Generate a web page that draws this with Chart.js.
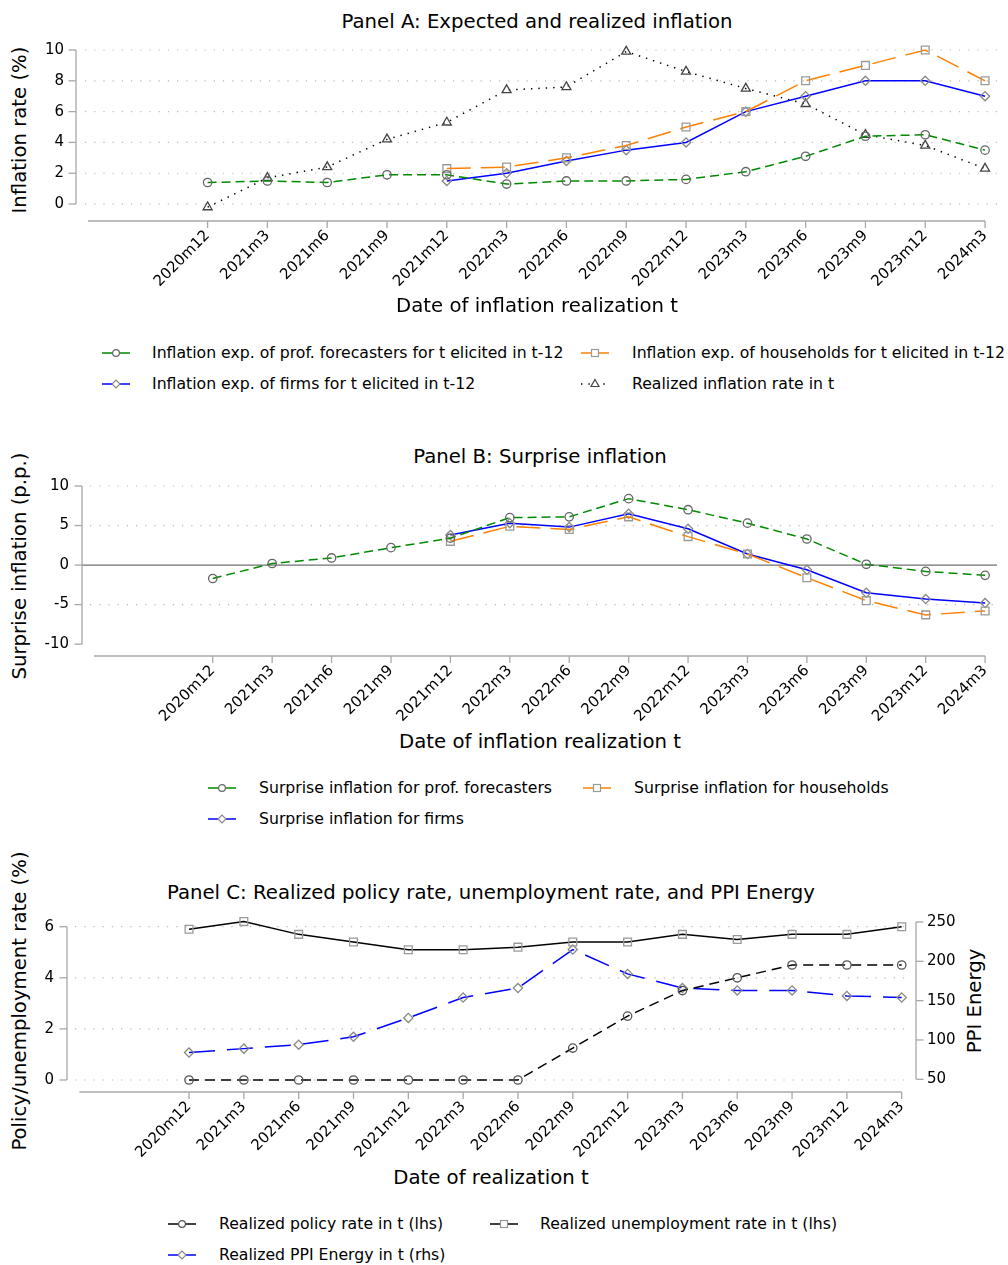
<!DOCTYPE html>
<html><head><meta charset="utf-8">
<script src="https://cdn.jsdelivr.net/npm/chart.js@4.4.1/dist/chart.umd.min.js"></script>
<style>
body{margin:0;background:#fff;width:1008px;height:1265px;position:relative;overflow:hidden;font-family:"DejaVu Sans",sans-serif;color:#000}
.t{position:absolute;white-space:nowrap;font-size:19.7px;line-height:1;transform:translate(-50%,-50%)}
.yt{position:absolute;white-space:nowrap;font-size:19.7px;line-height:1;transform:translate(-50%,-50%) rotate(-90deg)}
canvas{position:absolute;left:0}
.lg{position:absolute;white-space:nowrap;font-size:15.7px;line-height:1;transform:translateY(-50%)}
svg.sw{position:absolute;overflow:visible}
</style></head>
<body>
<div class="t" style="left:537px;top:22px">Panel A: Expected and realized inflation</div>
<div class="yt" style="left:20px;top:130px">Inflation rate (%)</div>
<canvas id="cA" width="1008" height="300" style="top:0px"></canvas>
<div class="t" style="left:537px;top:306px">Date of inflation realization t</div>
<div id="legA"></div>

<div class="t" style="left:540px;top:457px">Panel B: Surprise inflation</div>
<div class="yt" style="left:20px;top:566px">Surprise inflation (p.p.)</div>
<canvas id="cB" width="1008" height="300" style="top:430px"></canvas>
<div class="t" style="left:540px;top:742px">Date of inflation realization t</div>
<div id="legB"></div>

<div class="t" style="left:491px;top:893px">Panel C: Realized policy rate, unemployment rate, and PPI Energy</div>
<div class="yt" style="left:20px;top:1001px">Policy/unemployment rate (%)</div>
<div class="yt" style="left:975px;top:1001px">PPI Energy</div>
<canvas id="cC" width="1008" height="300" style="top:860px"></canvas>
<div class="t" style="left:491px;top:1178px">Date of realization t</div>
<div id="legC"></div>

<script>
// ---------- DATA ----------
const categories = ["2020m12","2021m3","2021m6","2021m9","2021m12","2022m3","2022m6","2022m9","2022m12","2023m3","2023m6","2023m9","2023m12","2024m3"];

// Panel A
const profExpected      = [1.4, 1.5, 1.4, 1.9, 1.9, 1.3, 1.5, 1.5, 1.6, 2.1, 3.1, 4.4, 4.5, 3.5];
const householdExpected = [null, null, null, null, 2.3, 2.4, 3.0, 3.8, 5.0, 6.0, 8.0, 9.0, 10.0, 8.0];
const firmExpected      = [null, null, null, null, 1.5, 2.0, 2.8, 3.5, 4.0, 6.0, 7.0, 8.0, 8.0, 7.0];
const realizedInflation = [-0.2, 1.7, 2.4, 4.2, 5.3, 7.4, 7.6, 9.9, 8.6, 7.5, 6.5, 4.5, 3.8, 2.3];

// Panel B
const profSurprise      = [-1.7, 0.2, 0.9, 2.2, 3.4, 6.0, 6.1, 8.4, 7.0, 5.3, 3.3, 0.1, -0.8, -1.3];
const householdSurprise = [null, null, null, null, 3.0, 4.9, 4.5, 6.1, 3.6, 1.4, -1.6, -4.5, -6.3, -5.8];
const firmSurprise      = [null, null, null, null, 3.8, 5.3, 4.8, 6.5, 4.6, 1.4, -0.6, -3.5, -4.3, -4.8];

// Panel C
const policyRate       = [0, 0, 0, 0, 0, 0, 0, 1.25, 2.5, 3.5, 4.0, 4.5, 4.5, 4.5];
const unemploymentRate = [5.9, 6.2, 5.7, 5.4, 5.1, 5.1, 5.2, 5.4, 5.4, 5.7, 5.5, 5.7, 5.7, 6.0];
const ppiEnergy        = [84, 89, 94, 104, 128, 154, 166, 215, 184, 166, 163, 163, 156, 154];

// Tick values
const ticksA = [0, 2, 4, 6, 8, 10];
const ticksB = [-10, -5, 0, 5, 10];
const gridB  = [-5, 5, 10];
const ticksCLeft  = [0, 2, 4, 6];
const ticksCRight = [50, 100, 150, 200, 250];

// ---------- STYLE ----------
const GREEN = '#008a00', ORANGE = '#ff8000', BLUE = '#0000ff', BLACK = '#000000';
const MK_CIRCLE = '#666666', MK_SQUARE = '#9a9a9a', MK_DIAMOND = '#888888', MK_TRI = '#444444';
const AXIS_COL = '#a8a8a8';

Chart.defaults.font.family = 'DejaVu Sans';
Chart.defaults.font.size = 15;
Chart.defaults.color = '#000';

function toPts(arr){ return arr.map((v,i)=>({x:i,y:v})).filter(p=>p.y!==null); }

function ds(label, data, color, dash, style, radius, mcol, yAxisID){
  return { label, data: toPts(data), borderColor: color, borderWidth: 1.5, borderDash: dash,
    pointStyle: style, pointRadius: radius, pointHoverRadius: radius, pointBorderColor: mcol,
    pointBackgroundColor: 'rgba(0,0,0,0)', pointBorderWidth: 1.3, fill: false, tension: 0,
    clip: false, yAxisID: yAxisID || 'y' };
}

const stataPlugin = {
  id: 'stata',
  beforeDatasetsDraw(chart, args, o){
    const ctx = chart.ctx, a = chart.chartArea;
    function line(x0,y0,x1,y1){ ctx.beginPath(); ctx.moveTo(x0,y0); ctx.lineTo(x1,y1); ctx.stroke(); }
    ctx.save();
    const gs = chart.scales[o.gridScale];
    ctx.strokeStyle = '#b8b8b8'; ctx.lineWidth = 1.2; ctx.setLineDash([1.2, 8]);
    o.grid.forEach(v => { const y = gs.getPixelForValue(v); line(a.left, y, a.right, y); });
    ctx.setLineDash([]);
    if (o.zeroLine) {
      ctx.strokeStyle = '#707070'; ctx.lineWidth = 1.3;
      const y = gs.getPixelForValue(0); line(a.left - 8, y, a.right, y);
    }
    ctx.strokeStyle = AXIS_COL; ctx.lineWidth = 1.3;
    o.yAxes.forEach(ax => {
      const s = chart.scales[ax.id];
      line(ax.x, s.getPixelForValue(ax.from), ax.x, s.getPixelForValue(ax.to));
      ax.ticks.forEach(v => { const y = s.getPixelForValue(v); line(ax.x, y, ax.x + ax.dir * 7.5, y); });
    });
    const xs = chart.scales.x, yb = a.bottom;
    line(xs.getPixelForValue(-2), yb, xs.getPixelForValue(categories.length - 1), yb);
    categories.forEach((c,i) => { const x = xs.getPixelForValue(i); line(x, yb, x, yb + 7); });
    ctx.restore();
  }
};

function xScale(xmin, xmax, height){
  return { type: 'linear', position: 'bottom', min: xmin, max: xmax,
    afterBuildTicks: s => { s.ticks = categories.map((c,i)=>({value:i})); },
    afterFit: s => { s.height = height; },
    grid: { display: false, drawTicks: false }, border: { display: false },
    ticks: { autoSkip: false, minRotation: 45, maxRotation: 45, padding: 6, color: '#000',
      font: { size: 15 }, callback: v => categories[v] !== undefined ? categories[v] : '' } };
}
function yScale(pos, min, max, ticks, width, pad){
  return { type: 'linear', position: pos, min, max,
    afterBuildTicks: s => { s.ticks = ticks.map(v=>({value:v})); },
    afterFit: s => { s.width = width; },
    grid: { display: false, drawTicks: false }, border: { display: false },
    ticks: { padding: pad, color: '#000', font: { size: 15 }, callback: v => String(v) } };
}

function makeChart(id, datasets, scales, padding, stataOpts){
  return new Chart(document.getElementById(id), {
    type: 'line',
    data: { datasets },
    options: { responsive: false, animation: false, events: [],
      layout: { padding },
      scales,
      plugins: { legend: { display: false }, tooltip: { enabled: false }, title: { display: false }, stata: stataOpts } },
    plugins: [stataPlugin]
  });
}

// Panel A
makeChart('cA', [
  ds('Inflation exp. of prof. forecasters for t elicited in t-12', profExpected, GREEN, [9,5], 'circle', 4.2, MK_CIRCLE),
  ds('Inflation exp. of households for t elicited in t-12', householdExpected, ORANGE, [24,10], 'rect', 5.5, MK_SQUARE),
  ds('Inflation exp. of firms for t elicited in t-12', firmExpected, BLUE, [], 'rectRot', 4.6, MK_DIAMOND),
  ds('Realized inflation rate in t', realizedInflation, BLACK, [1.4,6], 'triangle', 5.2, MK_TRI)
], { x: xScale(-2.05, 13.2, 79), y: yScale('left', -1.1, 10, ticksA, 85, 21) },
 { left: 0, right: 11, top: 50, bottom: 0 },
 { gridScale: 'y', grid: ticksA, zeroLine: false, yAxes: [{ id: 'y', x: 76, from: 0, to: 10, ticks: ticksA, dir: -1 }] });

// Panel B
makeChart('cB', [
  ds('Surprise inflation for prof. forecasters', profSurprise, GREEN, [9,5], 'circle', 4.2, MK_CIRCLE),
  ds('Surprise inflation for households', householdSurprise, ORANGE, [24,10], 'rect', 5.5, MK_SQUARE),
  ds('Surprise inflation for firms', firmSurprise, BLUE, [], 'rectRot', 4.6, MK_DIAMOND)
], { x: xScale(-2.066, 13.2, 74), y: yScale('left', -11.5, 10, ticksB, 90, 21) },
 { left: 0, right: 11, top: 56, bottom: 0 },
 { gridScale: 'y', grid: gridB, zeroLine: true, yAxes: [{ id: 'y', x: 82, from: -10, to: 10, ticks: ticksB, dir: -1 }] });

// Panel C
makeChart('cC', [
  ds('Realized policy rate in t (lhs)', policyRate, BLACK, [10,6], 'circle', 4.2, '#555555', 'y'),
  ds('Realized unemployment rate in t (lhs)', unemploymentRate, BLACK, [], 'rect', 5.5, MK_SQUARE, 'y'),
  ds('Realized PPI Energy in t (rhs)', ppiEnergy, BLUE, [26,12], 'rectRot', 4.6, MK_DIAMOND, 'y1')
], { x: xScale(-2.08, 13.133, 68),
     y: yScale('left', -0.47, 6.184, ticksCLeft, 75, 21),
     y1: yScale('right', 33.85, 250, ticksCRight, 99, 18) },
 { left: 0, right: 0, top: 62, bottom: 0 },
 { gridScale: 'y', grid: ticksCLeft, zeroLine: false, yAxes: [
    { id: 'y', x: 67, from: 0, to: 6, ticks: ticksCLeft, dir: -1 },
    { id: 'y1', x: 916, from: 50, to: 250, ticks: ticksCRight, dir: 1 } ] });

// ---------- LEGENDS (HTML) ----------
function swatch(color, dash, shape, mcol){
  let m = '';
  const c = 14;
  if (shape === 'circle') m = `<circle cx="${c}" cy="8" r="3.4" fill="white" stroke="${mcol}" stroke-width="1.2"/>`;
  if (shape === 'rect') m = `<rect x="${c-3.5}" y="4.5" width="7" height="7" fill="white" stroke="${mcol}" stroke-width="1.2"/>`;
  if (shape === 'rectRot') m = `<polygon points="${c-4},8 ${c},4 ${c+4},8 ${c},12" fill="white" stroke="${mcol}" stroke-width="1.2"/>`;
  if (shape === 'triangle') m = `<polygon points="${c},3.5 ${c+4},10.5 ${c-4},10.5" fill="white" stroke="${mcol}" stroke-width="1.2"/>`;
  const da = dash ? `stroke-dasharray="${dash}"` : '';
  return `<line x1="0" y1="8" x2="28" y2="8" stroke="${color}" stroke-width="1.5" ${da}/>` + m;
}
function legend(id, items){
  let html = '';
  items.forEach(it => {
    html += `<svg class="sw" width="28" height="16" style="left:${it.sx}px;top:${it.y-8}px">${swatch(it.color, it.dash, it.shape, it.mcol)}</svg>`;
    html += `<div class="lg" style="left:${it.tx}px;top:${it.y}px">${it.label}</div>`;
  });
  document.getElementById(id).innerHTML = html;
}
legend('legA', [
  { sx:102, tx:152, y:353, color:GREEN, shape:'circle', mcol:MK_CIRCLE, label:'Inflation exp. of prof. forecasters for t elicited in t-12' },
  { sx:581, tx:632, y:353, color:ORANGE, shape:'rect', mcol:MK_SQUARE, label:'Inflation exp. of households for t elicited in t-12' },
  { sx:102, tx:152, y:384, color:BLUE, shape:'rectRot', mcol:MK_DIAMOND, label:'Inflation exp. of firms for t elicited in t-12' },
  { sx:581, tx:632, y:384, color:BLACK, dash:'1.4 6', shape:'triangle', mcol:MK_TRI, label:'Realized inflation rate in t' }
]);
legend('legB', [
  { sx:208, tx:259, y:788, color:GREEN, shape:'circle', mcol:MK_CIRCLE, label:'Surprise inflation for prof. forecasters' },
  { sx:583, tx:634, y:788, color:ORANGE, shape:'rect', mcol:MK_SQUARE, label:'Surprise inflation for households' },
  { sx:208, tx:259, y:819, color:BLUE, shape:'rectRot', mcol:MK_DIAMOND, label:'Surprise inflation for firms' }
]);
legend('legC', [
  { sx:168, tx:219, y:1224, color:BLACK, shape:'circle', mcol:'#555555', label:'Realized policy rate in t (lhs)' },
  { sx:490, tx:540, y:1224, color:BLACK, shape:'rect', mcol:MK_SQUARE, label:'Realized unemployment rate in t (lhs)' },
  { sx:168, tx:219, y:1255, color:BLUE, shape:'rectRot', mcol:MK_DIAMOND, label:'Realized PPI Energy in t (rhs)' }
]);
</script>
</body></html>
